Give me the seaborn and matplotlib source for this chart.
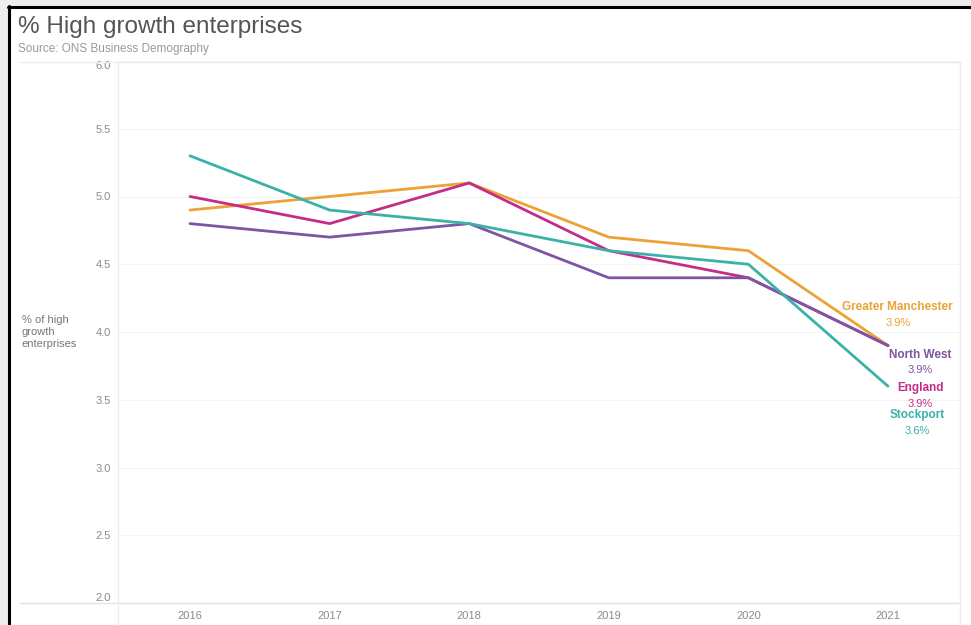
import matplotlib
matplotlib.use("Agg")
import matplotlib.pyplot as plt
from matplotlib.lines import Line2D
from matplotlib.patches import Rectangle
import seaborn as sns
import pandas as pd

# data
years = ["2016", "2017", "2018", "2019", "2020", "2021"]
stockport = [5.3, 4.9, 4.8, 4.6, 4.5, 3.6]
greater_manchester = [4.9, 5.0, 5.1, 4.7, 4.6, 3.9]
england = [5.0, 4.8, 5.1, 4.6, 4.4, 3.9]
north_west = [4.8, 4.7, 4.8, 4.4, 4.4, 3.9]
y_ticks = [2.0, 2.5, 3.0, 3.5, 4.0, 4.5, 5.0, 5.5, 6.0]

series = {
    "Greater Manchester": greater_manchester,
    "England": england,
    "North West": north_west,
    "Stockport": stockport,
}
colors = {
    "Greater Manchester": "#EBA236",
    "England": "#C42D87",
    "North West": "#7E55A3",
    "Stockport": "#3BB2A8",
}

rows = []
for name, vals in series.items():
    for i, v in enumerate(vals):
        rows.append({"idx": i, "value": v, "area": name})
df = pd.DataFrame(rows)

sns.set_theme(style="white")
plt.rcParams["font.family"] = ["Liberation Sans", "DejaVu Sans"]

fig = plt.figure(figsize=(9.71, 6.25), dpi=100)
fig.patch.set_facecolor("white")
ax = fig.add_axes([118 / 971, 1 - 603 / 625, (960 - 118) / 971, (603 - 61) / 625])

sns.lineplot(data=df, x="idx", y="value", hue="area", palette=colors,
             linewidth=2, legend=False, ax=ax)

ax.set_xlim(-0.516, 5.516)
ax.set_ylim(2.0, 6.0)
ax.set_xticks(range(len(years)))
ax.set_xticklabels(years)
ax.set_yticks(y_ticks)
ax.set_yticklabels([f"{t:.1f}" for t in y_ticks])
ax.tick_params(axis="both", colors="#8a8a8a", labelsize=8, length=0)
ax.tick_params(axis="x", pad=6)
ax.tick_params(axis="y", pad=5)
ylabels = ax.get_yticklabels()
ylabels[0].set_va("bottom")
ylabels[-1].set_va("top")
for t in y_ticks:
    ax.axhline(t, color="#f4f4f4", lw=0.8, zorder=0)
for s in ax.spines.values():
    s.set_visible(False)
ax.set_xlabel("")
ax.set_ylabel("")

# end labels (name bold, value below)
label_pos = {
    "Greater Manchester": (5.07, 4.185, 4.07),
    "North West": (5.23, 3.83, 3.72),
    "England": (5.23, 3.59, 3.47),
    "Stockport": (5.21, 3.39, 3.27),
}
for name, (lx, ly1, ly2) in label_pos.items():
    ax.text(lx, ly1, name, color=colors[name], fontsize=8.5, fontweight="bold",
            ha="center", va="center")
    ax.text(lx, ly2, f"{series[name][-1]:.1f}%", color=colors[name], fontsize=8,
            ha="center", va="center")

# frame lines around the view
line_c = "#ececec"
fig.add_artist(Line2D([20 / 971, 960 / 971], [1 - 62 / 625] * 2, color=line_c, lw=1))
fig.add_artist(Line2D([20 / 971, 960 / 971], [1 - 603 / 625] * 2, color="#e4e4e4", lw=1))
fig.add_artist(Line2D([118 / 971] * 2, [0, 1 - 62 / 625], color=line_c, lw=1))
fig.add_artist(Line2D([960 / 971] * 2, [0, 1 - 62 / 625], color=line_c, lw=1))

# screenshot-like border
fig.add_artist(Rectangle((0, 0), 8 / 971, 1, transform=fig.transFigure,
                         color="#eeeeee", zorder=-1))
fig.add_artist(Rectangle((0, 1 - 6 / 625), 1, 6 / 625, transform=fig.transFigure,
                         color="#eeeeee", zorder=-1))
fig.add_artist(Line2D([9 / 971] * 2, [0, 1 - 6 / 625], color="black", lw=2.2))
fig.add_artist(Line2D([8 / 971, 1], [1 - 7 / 625] * 2, color="black", lw=2.2))

fig.text(18 / 971, 1 - 27 / 625, "% High growth enterprises", fontsize=17.5,
         color="#555555", va="center", ha="left")
fig.text(18 / 971, 1 - 49 / 625, "Source: ONS Business Demography", fontsize=8.5,
         color="#9a9a9a", va="center", ha="left")
fig.text(22 / 971, 1 - 332 / 625, "% of high\ngrowth\nenterprises", fontsize=8,
         color="#777777", va="center", ha="left", linespacing=1.25)

fig.savefig("out.png", dpi=100, facecolor="white")
